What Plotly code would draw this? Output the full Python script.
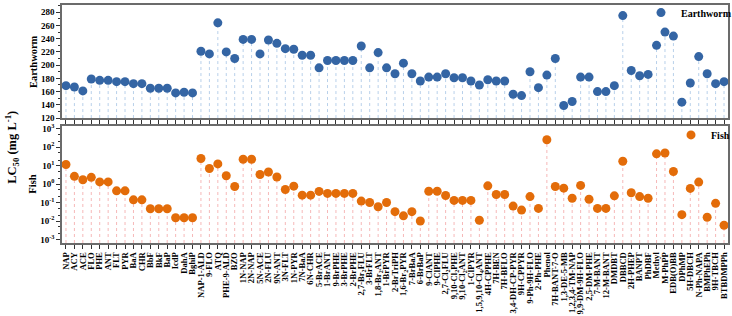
import plotly.graph_objects as go
import math

categories = ["NAP","ACY","ACE","FLO","PHE","ANT","FLT","PYR","BaA","CHR","BbF","BkF","BaP","IcdP","DahA","BghiP",
 "NAP-1-ALD","9-FLO","ATQ","PHE-9-ALD","BZO","1N-NAP","2N-NAP","5N-ACE","2N-FLU","9N-ANT","3N-FLT","1N-PYR",
 "7N-BaA","6N-CHR","5-BrACE","1-BrANT","9-BrPHE","3-BrPHE","2-BrPHE","2,7-Br<sub>2</sub>FLU","3-BrFLT",
 "1,8-Br<sub>2</sub>ANT","1-BrPYR","2-BrTriPH","1,6-Br<sub>2</sub>PYR","7-BrBaA","6-BrBaP","9-ClANT","9-ClPHE",
 "2,7-Cl<sub>2</sub>FLU","9,10-Cl<sub>2</sub>PHE","9,10-Cl<sub>2</sub>ANT","1-ClPYR","1,5,9,10-Cl<sub>4</sub>ANT",
 "4H-CPPHE","7H-BEN","7H-BFLO","3,4-DH-CP-PYR","9H-CPPYR","9-Ph-9H-FLO","2-Ph-PHE","Phenol","7H-BANT-7-O",
 "1,3-DE-5-MB","1,2,3,4-TM-NAP","9,9-DM-9H-FLO","2,5-DM-PHE","7-M-BANT","12-M-BANT","DMDBT","DBBCD","2H-PHEP",
 "BANPT","PhDBF","Methyl","M-PhPP","EDB(O)BB","DPhMP","5H-DBCH","N-Ph-NAPA","BMPhEPh","9H-TBCH","BTBDMPPh"]

earthworm = [169,167,161,179,177,177,175,175,172,172,165,165,165,158,159,158,
 221,217,264,220,210,239,239,217,238,233,225,224,215,215,196,207,207,207,207,229,196,219,196,
 187,203,187,176,182,182,187,181,181,176,170,178,176,176,156,154,190,166,185,210,
 139,145,182,182,160,160,169,275,192,184,186,230,250,244,144,173,213,187,172,175]

fish = [11.4,2.6,1.7,2.3,1.3,1.3,0.43,0.43,0.14,0.14,0.046,0.046,0.046,0.015,0.015,0.015,
 24,6.9,12.3,2.8,0.74,22,22,3.3,4.5,2.4,0.51,0.77,0.25,0.25,0.4,0.31,0.31,0.31,0.31,0.12,0.10,0.059,0.10,
 0.032,0.019,0.032,0.010,0.41,0.41,0.24,0.13,0.13,0.13,0.011,0.8,0.27,0.27,0.064,0.039,0.21,0.048,250,
 0.74,0.6,0.17,0.84,0.15,0.048,0.048,0.23,17,0.34,0.21,0.17,43,48,4.8,0.022,0.58,1.27,0.016,0.09,0.0059]

ew_range = [120, 291]
fish_log_range = [-3.19, 3.12]
log_ticks = [-3, -2, -1, 0, 1, 2, 3]

blue = "#3465A4"
orange = "#E36C09"
blue_stem = "#B8D0EA"
orange_stem = "#F6B8B8"
FONT = "Liberation Serif"

x = list(range(len(categories)))

def stems(xs, ys, base):
    sx, sy = [], []
    for a, b in zip(xs, ys):
        sx += [a, a, None]
        sy += [base, b, None]
    return sx, sy

fig = go.Figure()

sx, sy = stems(x, earthworm, ew_range[0])
fig.add_trace(go.Scatter(x=sx, y=sy, mode="lines", line=dict(color=blue_stem, width=1, dash="dot"),
                         showlegend=False, hoverinfo="skip", xaxis="x", yaxis="y"))
fig.add_trace(go.Scatter(x=x, y=earthworm, mode="markers", name="Earthworm",
                         marker=dict(color=blue, size=9), xaxis="x", yaxis="y", legend="legend"))

sx2, sy2 = stems(x, fish, 10 ** fish_log_range[0])
fig.add_trace(go.Scatter(x=sx2, y=sy2, mode="lines", line=dict(color=orange_stem, width=1, dash="dot"),
                         showlegend=False, hoverinfo="skip", xaxis="x2", yaxis="y2"))
fig.add_trace(go.Scatter(x=x, y=fish, mode="markers", name="Fish",
                         marker=dict(color=orange, size=9), xaxis="x2", yaxis="y2", legend="legend2"))

frame = dict(showline=True, linecolor="#6b6b6b", linewidth=1.5, mirror=True, showgrid=False, zeroline=False)
xr = [-0.47, len(categories) - 1 + 0.47]

fig.update_layout(
    width=732, height=316,
    margin=dict(l=62, r=4, t=5, b=73, autoexpand=False),
    paper_bgcolor="white", plot_bgcolor="white",
    font=dict(family=FONT, size=9, color="black"),
    xaxis=dict(domain=[0, 1], anchor="y", range=xr, tickvals=x, ticktext=categories, showticklabels=False,
               ticks="outside", ticklen=4, tickcolor="#333", **frame),
    yaxis=dict(domain=[0.525, 1], anchor="x", range=ew_range, tickvals=list(range(120, 281, 20)),
               ticks="outside", ticklen=4, tickcolor="#333",
               minor=dict(ticks="outside", ticklen=2, dtick=10, tickcolor="#333"),
               tickfont=dict(family=FONT, size=9, color="black", weight="bold"), **frame),
    xaxis2=dict(domain=[0, 1], anchor="y2", range=xr, tickvals=x, ticktext=categories, tickangle=-90,
                ticks="outside", ticklen=4, tickcolor="#333",
                tickfont=dict(family=FONT, size=8.6, color="black", weight="bold"), **frame),
    yaxis2=dict(domain=[0, 0.49], anchor="x2", type="log", range=fish_log_range,
                tickvals=[10 ** e for e in log_ticks], ticktext=[f"10<sup>{e}</sup>" for e in log_ticks],
                ticks="outside", ticklen=4, tickcolor="#333",
                minor=dict(ticks="outside", ticklen=2, tickcolor="#333"),
                tickfont=dict(family=FONT, size=9, color="black", weight="bold"), **frame),
    legend=dict(x=(641 - 62) / 666, y=1.029, xanchor="left", yanchor="top", bgcolor="rgba(0,0,0,0)",
                font=dict(family=FONT, size=10, weight="bold"), itemwidth=30),
    legend2=dict(x=(671 - 62) / 666, y=0.515, xanchor="left", yanchor="top", bgcolor="rgba(0,0,0,0)",
                 font=dict(family=FONT, size=10, weight="bold"), itemwidth=30),
    annotations=[
        dict(text="<b>Earthworm</b>", xref="paper", yref="paper", x=-29 / 666, y=0.76, textangle=-90,
             showarrow=False, font=dict(family=FONT, size=10.5), xanchor="center", yanchor="middle"),
        dict(text="<b>Fish</b>", xref="paper", yref="paper", x=-29 / 666, y=0.245, textangle=-90,
             showarrow=False, font=dict(family=FONT, size=10.5), xanchor="center", yanchor="middle"),
        dict(text="<b>LC<sub>50</sub> (mg L<sup>-1</sup>)</b>", xref="paper", yref="paper", x=-50 / 666, y=0.40,
             textangle=-90, showarrow=False, font=dict(family=FONT, size=12.5), xanchor="center", yanchor="middle"),
    ],
)

fig.write_html("out.html")
